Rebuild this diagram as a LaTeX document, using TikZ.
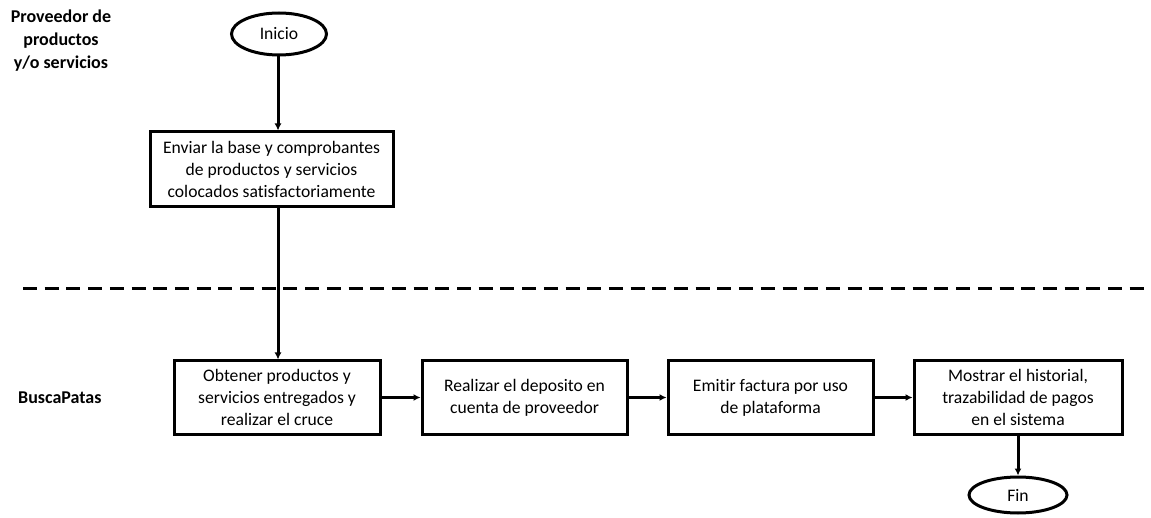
\documentclass[tikz,border=0pt]{standalone}
\usepackage{fontspec}
\setmainfont{Carlito}[Ligatures=NoCommon]
\usetikzlibrary{arrows.meta,shapes.geometric}
\begin{document}
\begin{tikzpicture}[x=1pt,y=-1pt,
  proc/.style={draw,line width=3pt,align=center,inner sep=0pt,
    font=\fontsize{17.6}{22}\selectfont},
  term/.style={draw,ellipse,line width=3pt,inner sep=0pt,
    font=\fontsize{17.6}{22}\selectfont},
  lane/.style={align=center,font=\bfseries\fontsize{18}{23}\selectfont},
  flow/.style={line width=3pt,-{Latex[length=7pt,width=7pt]}}]
\useasboundingbox (0,0) rectangle (1151,518);
\fill[white] (0,0) rectangle (1151,518);
% swimlane labels
\node[lane] (lane1) at (61,41) {Proveedor de\\productos\\y/o servicios};
\node[lane,anchor=west,inner sep=0pt] (lane2) at (18,398) {BuscaPatas};
% lane separator
\draw[line width=3pt,dash pattern=on 14pt off 7.7pt] (23,289) -- (1150,289);
% terminals
\node[term,minimum width=95pt,minimum height=42pt] (inicio) at (279,34) {Inicio};
\node[term,minimum width=98pt,minimum height=36pt] (fin) at (1018,495) {Fin};
% process steps
\node[proc,minimum width=243pt,minimum height=75pt] (enviar) at (271.5,169.5)
  {Enviar la base y comprobantes\\de productos y servicios\\colocados satisfactoriamente};
\node[proc,minimum width=206pt,minimum height=73pt] (obtener) at (277,397.5)
  {Obtener productos y\\servicios entregados y\\realizar el cruce};
\node[proc,minimum width=205pt,minimum height=73pt] (deposito) at (524.5,397.5)
  {Realizar el deposito en\\cuenta de proveedor};
\node[proc,minimum width=205pt,minimum height=73pt] (factura) at (770.5,397.5)
  {Emitir factura por uso\\de plataforma};
\node[proc,minimum width=208pt,minimum height=73pt] (historial) at (1018,397.5)
  {Mostrar el historial,\\trazabilidad de pagos\\en el sistema};
% connectors
\draw[flow] (inicio.south -| 278,0) -- (enviar.north -| 278,0);
\draw[flow] (enviar.south -| 278,0) -- (obtener.north -| 278,0);
\draw[flow] (obtener) -- (deposito);
\draw[flow] (deposito) -- (factura);
\draw[flow] (factura) -- (historial);
\draw[flow] (historial) -- (fin);
\end{tikzpicture}
\end{document}
